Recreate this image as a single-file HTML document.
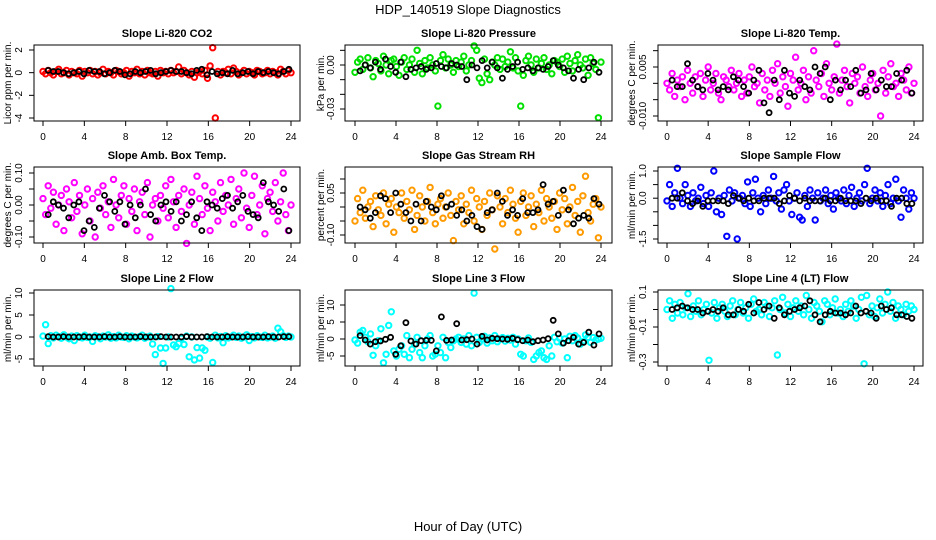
<!DOCTYPE html>
<html><head><meta charset="utf-8">
<style>
html,body{margin:0;padding:0;background:#fff;}
svg{display:block;font-family:"Liberation Sans",sans-serif;}
</style></head>
<body>
<svg id="chart" width="936" height="540" viewBox="0 0 936 540">
<text x="468" y="14" text-anchor="middle" font-size="13">HDP_140519  Slope Diagnostics</text>
<text x="468" y="531" text-anchor="middle" font-size="13">Hour of Day (UTC)</text>
</svg>
<script>
// x-axis ticks shared by all panels
const xTicks = [0,4,8,12,16,20,24];
const panelTitles = ["Slope Li-820 CO2","Slope Li-820 Pressure","Slope Li-820 Temp.","Slope Amb. Box Temp.","Slope Gas Stream RH","Slope Sample Flow","Slope Line 2 Flow","Slope Line 3 Flow","Slope Line 4 (LT) Flow"];
const yTitles = ["Licor ppm per min.","kPa per min.","degrees C per min.","degrees C per min.","percent per min.","ml/min per min.","ml/min per min.","ml/min per min.","ml/min per min."];
// data stored in scaled units (value * unit factor)
const unitFactors = [0.1,0.001,0.001,0.01,0.01,0.1,0.1,0.1,0.01];
const yTickValues = [[-4,-2,0,2],[-0.03,-0.02,-0.01,0,0.01],[-0.01,-0.005,0,0.005,0.01],[-0.1,-0.05,0,0.05,0.1],[-0.1,-0.05,0,0.05,0.1],[-1.5,-1,-0.5,0,0.5,1],[-5,0,5,10],[-5,0,5,10],[-0.3,-0.2,-0.1,0,0.1]];
const yTickLabels = [["-4","-2","0","2"],["-0.03","","","0.00",""],["-0.010","","","0.005",""],["-0.10","","0.00","","0.10"],["-0.10","","","0.05",""],["-1.5","","","0.0","","1.0"],["-5","0","5","10"],["-5","0","5","10"],["-0.3","","-0.1","","0.1"]];
const seriesColors = ["#ff0000","#00e000","#ff00ff","#ff00ff","#ff9a00","#0000ff","#00ffff","#00ffff","#00ffff"];

const co2 = [1,-1,2,0,-2,1,3,-1,0,2,-2,1,0,-1,2,-3,1,0,2,-1,1,-2,0,3,-1,1,0,-2,2,1,-1,0,2,-3,1,0,3,-1,1,-2,2,0,-1,1,-3,2,0,1,-1,2,0,1,5,-1,2,0,-2,1,-4,0,1,-1,2,-5,6,22,-40,1,-2,1,0,3,-1,4,1,-2,0,2,-1,1,0,-2,2,1,-1,0,2,-1,1,0,-2,3,1,-1,2,0];
const co2Avg = [2,1,1,0,-1,0,1,-1,2,1,1,-1,0,2,1,-2,-1,1,0,1,2,-1,0,1,2,1,1,0,-1,2,3,-2,1,-1,0,-1,2,-1,0,1,-1,1,0,1,0,-1,1,3];
const pres = [-5,2,4,-3,0,5,-2,-8,3,1,-4,6,0,-6,3,4,-1,-7,2,5,-3,0,4,-5,10,1,-6,3,-2,5,0,-4,-28,3,7,-2,4,0,-5,3,-1,2,6,-4,0,3,13,10,-9,-12,4,-6,-10,2,0,5,-3,4,-1,2,9,-2,5,-4,-28,-7,3,6,0,-5,4,-2,1,5,-3,0,-6,3,2,-1,4,-5,6,1,-4,3,7,0,-2,4,-7,5,1,-3,-36,2];
const presAvg = [-4,0,-2,2,-3,4,-1,-5,2,-8,-3,-2,-1,-3,-2,1,-1,-2,1,0,-1,-10,0,-2,3,-2,2,-2,-9,-3,-1,2,-3,-2,-4,-2,-3,-1,3,0,-2,-4,-9,-3,-10,-2,2,-5];
const temp = [0,-2,3,-4,1,-1,2,-5,4,0,-3,2,-1,3,-4,1,5,-2,0,3,-3,-5,2,1,-1,4,-2,0,3,-4,1,-3,2,5,-1,0,-6,3,-2,1,-4,4,0,6,-3,2,-1,-7,3,1,8,-2,0,4,-5,2,-3,10,1,-1,3,-4,6,0,-2,2,12,-3,1,4,-1,-6,3,0,2,-3,5,-1,-4,1,3,-2,0,-10,4,-3,2,6,-1,0,-4,3,1,-2,5,-3,0];
const tempAvg = [1,-1,-1,6,1,-1,-2,3,1,-2,-1,-2,2,1,-1,-3,1,4,-6,-9,1,-5,4,-3,-4,1,-1,-2,5,3,5,-5,1,-2,1,-1,4,-3,-2,3,-2,1,-1,-1,3,1,4,-3];
const amb = [2,-3,6,-1,4,-6,0,3,-8,5,1,-4,7,-2,3,-9,0,5,-5,2,-10,4,-1,6,-3,1,-7,8,0,-4,3,6,-6,2,-2,5,-8,1,4,-3,7,-10,0,2,-5,3,-1,6,-4,8,1,-7,3,-2,5,-12,0,4,-6,9,2,-3,6,-1,-8,4,1,-5,7,-2,3,0,8,-6,2,5,-4,10,-1,-7,3,9,-3,0,6,-9,2,4,-2,7,-5,1,10,-3,-8,0];
const ambAvg = [-3,1,0,-1,-4,0,1,-8,-5,-7,-1,3,1,-2,1,-6,0,-4,0,5,-3,-5,0,1,-2,1,-5,-3,1,-4,-8,1,0,-1,2,3,-1,1,3,-2,-3,-4,7,1,0,-2,5,-8];
const rh = [-5,3,-2,6,-4,0,2,-7,4,-1,-3,5,-6,1,3,-9,0,-2,5,-4,2,-1,6,-8,-3,4,0,-5,2,7,-2,-6,1,3,-4,0,5,-3,-12,2,-1,4,-6,1,-2,6,-5,3,0,-8,2,-3,5,-1,-15,4,0,-6,3,-2,6,1,-4,-9,2,5,-3,0,4,-7,1,-2,6,-5,3,0,-4,2,-8,5,-1,3,-6,0,7,-3,2,-9,4,11,-2,-5,1,3,-11,0];
const rhAvg = [0,-1,-4,-2,4,3,-2,5,1,-2,-5,1,-5,2,0,-1,4,0,1,-3,-1,-5,-3,-7,-8,-2,-1,5,2,-3,-1,-3,3,-2,-2,-1,8,1,2,-3,6,-1,-6,-4,-3,-4,3,1];
const sflow = [-1,5,-3,2,11,0,-2,5,1,-3,2,-1,0,4,-2,1,-3,2,10,-5,0,-6,1,-14,3,-1,2,-15,0,1,-2,6,-3,2,7,0,-5,1,-2,3,0,8,-1,2,-4,3,5,-1,-6,0,2,-7,-8,1,-3,3,0,-8,2,-1,0,3,-2,1,-4,2,0,-1,3,-2,1,4,-3,0,2,-1,5,11,-2,0,3,-1,2,-3,1,5,-2,0,7,-1,-7,3,0,-4,2,0];
const sflowAvg = [0,0,2,-1,-2,-1,-3,-1,-1,-1,-1,-2,1,0,-1,0,-1,-1,0,0,0,-2,-1,1,0,-1,0,-1,-1,-1,0,-1,-1,0,-1,-1,-1,-2,0,-1,0,-1,-1,-3,0,0,-2,-2];
const line2 = [2,28,-15,3,-2,4,1,-3,5,0,-4,2,-8,3,0,-2,4,-1,0,-10,3,1,-4,2,0,5,-3,1,-2,4,0,-1,3,-4,2,0,-2,1,4,-3,0,2,-16,-40,1,-25,-60,-25,0,110,-18,-22,-15,-3,-17,2,-45,0,-52,-24,-48,-25,-30,0,-3,-58,4,-2,1,-13,3,-2,0,4,-1,2,-3,0,5,-8,1,-2,3,0,-1,4,-2,0,2,-3,20,12,3,-1,2,0];
const line2Avg = [1,0,0,1,0,0,0,1,0,0,0,1,0,0,1,0,0,0,1,0,0,0,1,0,0,0,0,1,0,0,0,1,0,0,0,1,0,0,0,1,0,0,0,1,0,0,1,1];
const line3 = [-3,-12,20,25,5,-8,15,-48,-20,-5,30,-70,-45,40,80,-35,-50,-30,-20,-45,10,-55,-30,-15,5,-40,-55,-20,0,10,-50,-45,-20,-40,5,-55,-10,-25,-5,0,5,-10,0,-15,10,-20,135,5,-10,0,8,-12,3,-5,10,-8,0,4,-6,2,-3,5,-15,0,-45,-50,-5,3,-10,-60,-50,-40,-35,-55,-60,-20,-50,5,-8,2,-12,0,-55,8,-5,10,3,-15,-8,12,5,-10,4,-3,0,2];
const line3Avg = [10,-3,-15,-8,-6,-1,5,-45,-20,48,-6,-15,-5,-4,-4,-35,65,-4,-3,45,-3,-2,0,-15,8,-3,2,1,0,-1,2,-2,-5,-3,-8,-5,-3,1,55,15,-12,-5,5,-15,-10,20,-18,15];
const line4 = [0,5,-5,3,-2,4,-3,1,9,-4,2,-1,5,-3,0,3,-29,-2,4,-5,1,3,-1,-4,2,5,-3,0,4,-2,1,-5,3,6,-1,0,-3,4,2,-4,1,5,-26,0,7,-2,3,-4,1,5,-1,2,-3,8,0,-5,4,2,-1,-7,5,3,-3,1,6,-2,0,-4,3,-1,5,2,-5,0,7,-31,8,-3,2,-4,1,6,-2,3,10,-1,4,-5,2,0,-3,3,-1,2,0];
const line4Avg = [0,1,2,1,0,0,-2,-1,0,-1,1,-3,-3,0,-1,3,-2,4,0,2,-5,1,-3,-1,0,1,2,5,-3,-7,-3,-1,-2,-2,-3,-2,2,-2,-1,-2,-5,2,0,1,-3,-3,-4,-5];

const rawSeries = [co2,pres,temp,amb,rh,sflow,line2,line3,line4];
const avgSeries = [co2Avg,presAvg,tempAvg,ambAvg,rhAvg,sflowAvg,line2Avg,line3Avg,line4Avg];

// layout (not data)
const cols = [{l:34,r:300,x0:43,x24:291,yt:7,yl:19},{l:345,r:612,x0:355,x24:601,yt:320,yl:331},{l:658,r:923,x0:667,x24:914,yt:631,yl:643}];
const rows = [{t:45,b:121,title:37},{t:167,b:243,title:159},{t:290,b:366,title:282}];
const yRefs = [[2,50,-4,118],[0,65,-0.03,109],[0.005,67,-0.01,116],[0.1,173,-0.1,237],[0.05,193,-0.1,235],[1,171,-1.5,239],[10,293,-5,359],[10,305,-5,356],[0.1,292,-0.3,362]];

const svg = document.getElementById('chart');
const NS = 'http://www.w3.org/2000/svg';
function mk(tag, attrs, parent){const e=document.createElementNS(NS,tag);for(const k in attrs)e.setAttribute(k,attrs[k]);(parent||svg).appendChild(e);return e;}

for(let p=0;p<9;p++){
  const c=cols[p%3], r=rows[Math.floor(p/3)], ref=yRefs[p];
  const g=mk('g',{});
  
  
  const xs=v=>c.x0+(v/24)*(c.x24-c.x0);
  const ys=v=>ref[1]+(v-ref[0])*(ref[3]-ref[1])/(ref[2]-ref[0]);
  const t=mk('text',{x:(c.l+c.r)/2,y:r.title,'text-anchor':'middle','font-size':'11','font-weight':'bold'},g);
  t.textContent=panelTitles[p];
  
  
  const yt=mk('text',{x:0,y:0,'text-anchor':'middle','font-size':'10',transform:`translate(${c.yt+4},${(r.t+r.b)/2}) rotate(-90)`},g);
  yt.textContent=yTitles[p];
  
  
  const raw=rawSeries[p], f=unitFactors[p];
  raw.forEach((v,i)=>{
    const cx=xs(i*24/(raw.length-1)), cy=ys(v*f);
    const m=mk('circle',{cx:cx.toFixed(1),cy:cy.toFixed(1),r:2.7,fill:'none',stroke:seriesColors[p],'stroke-width':2},g);
    
    
  });
  const av=avgSeries[p];
  av.forEach((v,i)=>{
    const cx=xs(0.5+i*23.3/(av.length-1)), cy=ys(v*f);
    const m=mk('circle',{cx:cx.toFixed(1),cy:cy.toFixed(1),r:2.5,fill:'none',stroke:'#000','stroke-width':1.8},g);
    
    
  });
  const box=mk('rect',{x:c.l,y:r.t,width:c.r-c.l,height:r.b-r.t,fill:'none',stroke:'#000','stroke-width':1},g);
  
  
  xTicks.forEach(v=>{
    const x=xs(v);
    mk('line',{x1:x,x2:x,y1:r.b,y2:r.b+5,stroke:'#000'},g);
    const tl=mk('text',{x:x,y:r.b+19,'text-anchor':'middle','font-size':'10'},g);
    tl.textContent=v;
    
    
  });
  yTickValues[p].forEach((v,i)=>{
    const y=ys(v);
    mk('line',{x1:c.l-5,x2:c.l,y1:y,y2:y,stroke:'#000'},g);
    const lab=yTickLabels[p][i];
    if(lab){
      const tl=mk('text',{x:0,y:0,'text-anchor':'middle','font-size':'10',transform:`translate(${c.yl+3},${y}) rotate(-90)`},g);
      tl.textContent=lab;
      
      
    }
  });
}
</script>
</body></html>
